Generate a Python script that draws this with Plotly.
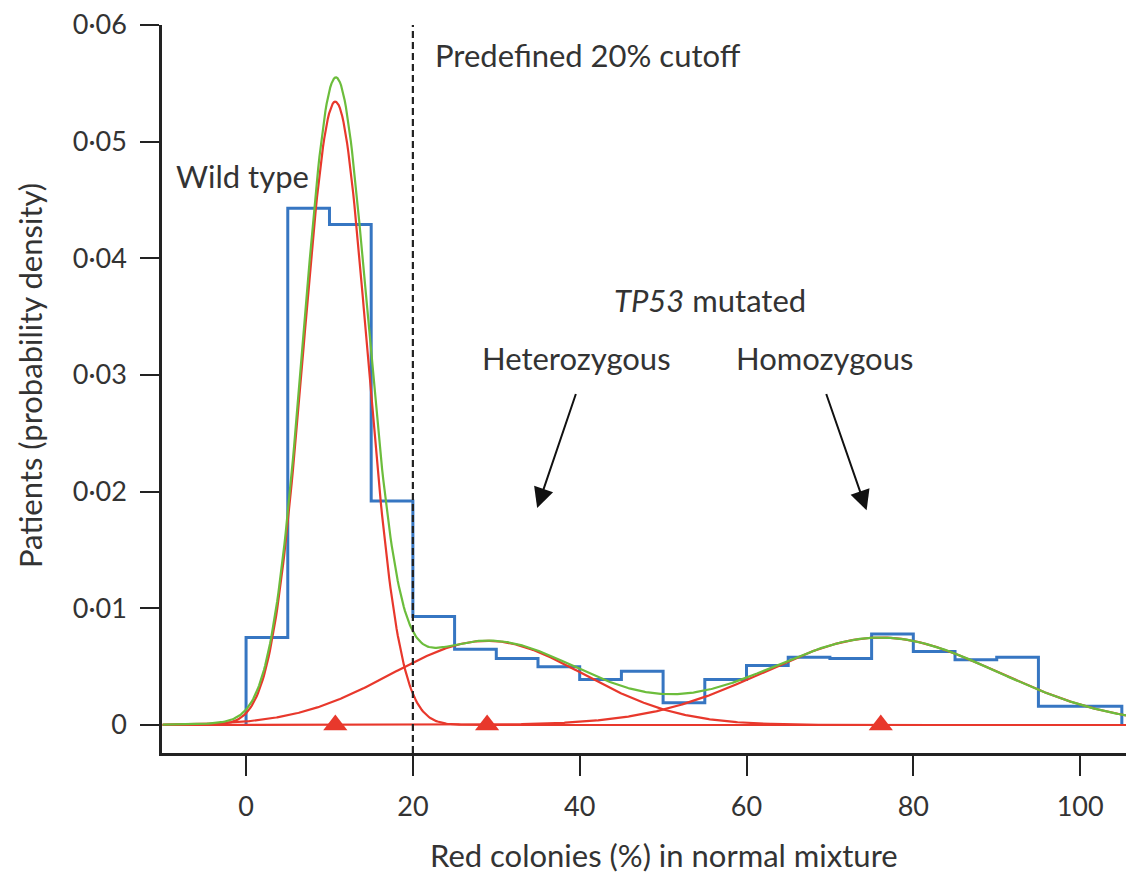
import numpy as np
import plotly.graph_objects as go

# ---- data ----
bin_edges = list(range(0, 110, 5))  # 0..105
bin_density = [0.0075, 0.0443, 0.0429, 0.0192, 0.0093, 0.0065, 0.0057, 0.0050,
               0.0039, 0.0046, 0.0019, 0.0039, 0.0051, 0.0058, 0.0057, 0.0078,
               0.0063, 0.0056, 0.0058, 0.0016, 0.0016]

comp_names = ["Wild type", "Heterozygous", "Homozygous"]
comp_means = [10.7, 28.9, 76.1]
comp_sds = [3.8, 11.5, 14.0]
comp_weights = [0.509, 0.208, 0.263]

cutoff = 20
y_tickvals = [0, 0.01, 0.02, 0.03, 0.04, 0.05, 0.06]
y_ticktext = ["0", "0·01", "0·02", "0·03", "0·04", "0·05", "0·06"]
x_tickvals = [0, 20, 40, 60, 80, 100]

FONT = "Lato"
TXT = "#333333"
BLUE = "#3676c2"
RED = "#e8382c"
GREEN = "#6cbd3c"

fig = go.Figure()

# histogram outline (step)
hx = [bin_edges[0]] + bin_edges + [bin_edges[-1]]
hy = [0] + bin_density + [bin_density[-1], 0]
fig.add_trace(go.Scatter(x=hx, y=hy, mode="lines", line=dict(color=BLUE, width=3, shape="hv"),
                         hoverinfo="skip", showlegend=False))

# mixture components
xg = np.linspace(-10, 105.5, 800)
total = np.zeros_like(xg)
comps = []
for m, s, w in zip(comp_means, comp_sds, comp_weights):
    d = w / (s * np.sqrt(2 * np.pi)) * np.exp(-0.5 * ((xg - m) / s) ** 2)
    comps.append(d)
    total += d

for d in comps:
    fig.add_trace(go.Scatter(x=xg, y=d, mode="lines", line=dict(color=RED, width=2.2),
                             hoverinfo="skip", showlegend=False))
fig.add_trace(go.Scatter(x=xg, y=total, mode="lines", line=dict(color=GREEN, width=2.2),
                         hoverinfo="skip", showlegend=False))

# component means as triangles
fig.add_trace(go.Scatter(x=comp_means, y=[0] * len(comp_means), mode="markers",
                         marker=dict(symbol="triangle-up", size=21, color=RED),
                         hoverinfo="skip", showlegend=False, cliponaxis=False))

# cutoff line
fig.add_shape(type="line", x0=cutoff, x1=cutoff, xref="x", y0=0, y1=1, yref="paper",
              line=dict(color="#222222", width=2.2, dash="7px,4px"))

ann_font = dict(family=FONT, size=31, color=TXT)
annotations = [
    dict(x=22.4, y=0.0574, xref="x", yref="y", text="Predefined 20% cutoff", showarrow=False,
         xanchor="left", yanchor="middle", font=ann_font),
    dict(x=-8.6, y=0.0471, xref="x", yref="y", text="Wild type", showarrow=False,
         xanchor="left", yanchor="middle", font=ann_font),
    dict(x=55.6, y=0.0364, xref="x", yref="y", text="<i>TP53</i> mutated", showarrow=False,
         xanchor="center", yanchor="middle", font=ann_font),
    dict(x=39.6, y=0.0315, xref="x", yref="y", text="Heterozygous", showarrow=False,
         xanchor="center", yanchor="middle", font=ann_font),
    dict(x=69.4, y=0.0315, xref="x", yref="y", text="Homozygous", showarrow=False,
         xanchor="center", yanchor="middle", font=ann_font),
    # arrows
    dict(x=34.9, y=0.0186, ax=39.6, ay=0.0285, xref="x", yref="y", axref="x", ayref="y",
         text="", showarrow=True, arrowhead=2, arrowsize=2.0, arrowwidth=2, arrowcolor="#111111"),
    dict(x=74.4, y=0.0184, ax=69.5, ay=0.0285, xref="x", yref="y", axref="x", ayref="y",
         text="", showarrow=True, arrowhead=2, arrowsize=2.0, arrowwidth=2, arrowcolor="#111111"),
    # axis titles
    dict(x=-0.137, y=0.519, xref="paper", yref="paper", text="Patients (probability density)",
         showarrow=False, textangle=-90, xanchor="center", yanchor="middle", font=ann_font),
    dict(x=0.521, y=-0.140, xref="paper", yref="paper", text="Red colonies (%) in normal mixture",
         showarrow=False, xanchor="center", yanchor="middle", font=ann_font),
]

fig.update_layout(
    width=1126, height=873,
    margin=dict(l=162, r=0, t=25, b=120),
    paper_bgcolor="white", plot_bgcolor="white",
    annotations=annotations,
    font=dict(family=FONT, size=27, color=TXT),
)
fig.update_xaxes(range=[-10.08, 105.5], tickvals=x_tickvals, showgrid=False, zeroline=False,
                 showline=True, linecolor="#222222", linewidth=2.5,
                 ticks="outside", ticklen=20, tickwidth=2, tickcolor="#222222",
                 ticklabelstandoff=8, tickfont=dict(family=FONT, size=27, color=TXT))
fig.update_yaxes(range=[-0.0024, 0.06], tickvals=y_tickvals, ticktext=y_ticktext,
                 showgrid=False, zeroline=False,
                 showline=True, linecolor="#222222", linewidth=2.5,
                 ticks="outside", ticklen=19, tickwidth=2, tickcolor="#222222",
                 ticklabelstandoff=8, tickfont=dict(family=FONT, size=27, color=TXT))

fig.write_html("out.html", config={"displayModeBar": False},
               post_script="document.body.style.margin='0';document.body.style.overflow='hidden';")
